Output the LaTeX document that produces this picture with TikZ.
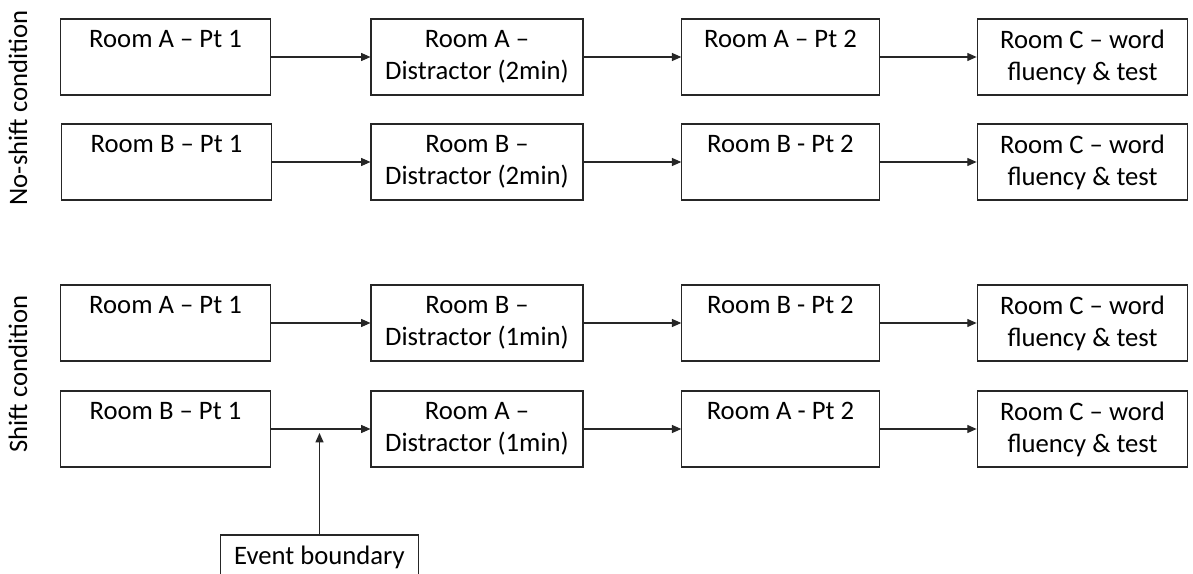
\documentclass[tikz,border=0pt]{standalone}
\usepackage{fontspec}
\setmainfont{Carlito}
\usetikzlibrary{arrows.meta}

\begin{document}
\begin{tikzpicture}[x=0.75pt,y=-0.75pt,
  stage/.style={draw=black!85, line width=0.8pt, minimum height=57pt, inner sep=0pt,
    align=center, font=\fontsize{20}{24}\selectfont},
  flow/.style={draw=black!85, line width=0.8pt, -{Triangle[length=7pt,width=6pt]}},
  side/.style={font=\fontsize{20}{24}\selectfont, rotate=90}]
\useasboundingbox (0,0) rectangle (1193,574);
\node[side] (noshift) at (18,108) {No-shift condition};
\node[side] (shift) at (18,374) {Shift condition};
\node[stage, minimum width=158pt] (na1) at (165.5,57) {Room A – Pt 1\\\phantom{(}};
\node[stage, minimum width=159pt] (na2) at (477,57) {Room A –\\Distractor (2min)};
\node[stage, minimum width=148pt] (na3) at (780.5,57) {Room A – Pt 2\\\phantom{(}};
\node[stage, minimum width=158pt] (na4) at (1082.5,57) {Room C – word\\fluency \& test};
\draw[flow] (na1) -- (na2);
\draw[flow] (na2) -- (na3);
\draw[flow] (na3) -- (na4);
\node[stage, minimum width=158pt] (nb1) at (166.5,162) {Room B – Pt 1\\\phantom{(}};
\node[stage, minimum width=159pt] (nb2) at (477,162) {Room B –\\Distractor (2min)};
\node[stage, minimum width=148pt] (nb3) at (780.5,162) {Room B - Pt 2\\\phantom{(}};
\node[stage, minimum width=158pt] (nb4) at (1082.5,162) {Room C – word\\fluency \& test};
\draw[flow] (nb1) -- (nb2);
\draw[flow] (nb2) -- (nb3);
\draw[flow] (nb3) -- (nb4);
\node[stage, minimum width=158pt] (sa1) at (165.5,323) {Room A – Pt 1\\\phantom{(}};
\node[stage, minimum width=159pt] (sa2) at (477,323) {Room B –\\Distractor (1min)};
\node[stage, minimum width=148pt] (sa3) at (780.5,323) {Room B - Pt 2\\\phantom{(}};
\node[stage, minimum width=158pt] (sa4) at (1082.5,323) {Room C – word\\fluency \& test};
\draw[flow] (sa1) -- (sa2);
\draw[flow] (sa2) -- (sa3);
\draw[flow] (sa3) -- (sa4);
\node[stage, minimum width=158pt] (sb1) at (165.5,429) {Room B – Pt 1\\\phantom{(}};
\node[stage, minimum width=159pt] (sb2) at (477,429) {Room A –\\Distractor (1min)};
\node[stage, minimum width=148pt] (sb3) at (780.5,429) {Room A - Pt 2\\\phantom{(}};
\node[stage, minimum width=158pt] (sb4) at (1082.5,429) {Room C – word\\fluency \& test};
\draw[flow] (sb1) -- (sb2);
\draw[flow] (sb2) -- (sb3);
\draw[flow] (sb3) -- (sb4);
\node[stage, minimum width=149pt, minimum height=33pt] (event) at (319.5,557) {Event boundary};
\coordinate (hit) at (319.5,433);
\draw[flow] (event) -- (hit);
\end{tikzpicture}
\end{document}
